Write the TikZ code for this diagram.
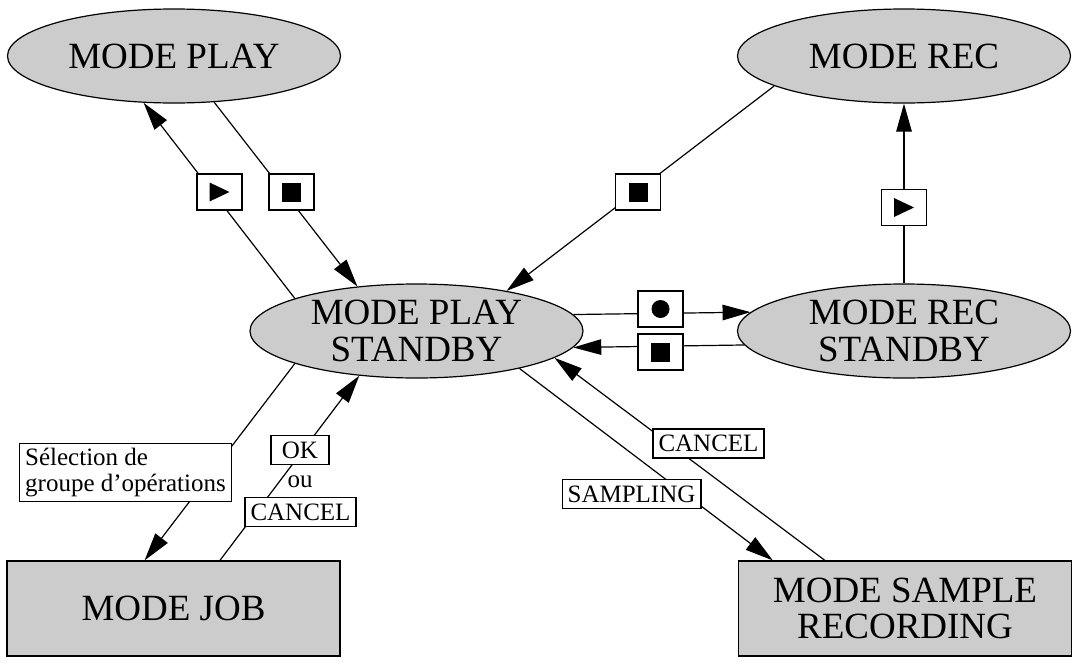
\documentclass[tikz,border=0pt]{standalone}
\usepackage{fontspec}
\setmainfont{Liberation Serif}
\usetikzlibrary{shapes.geometric, arrows.meta}
\definecolor{modegray}{RGB}{204, 204, 204}

% pictogrammes des touches
\newcommand{\playsym}{\tikz\fill (0pt,0pt) -- (0pt,19pt) -- (20pt,9.5pt) -- cycle;}
\newcommand{\stopsym}{\tikz\fill (0pt,0pt) rectangle (19pt,19pt);}
\newcommand{\recsym}{\tikz\fill (0pt,0pt) circle[radius=9pt];}

\begin{document}
\begin{tikzpicture}[
    x=1pt, y=-1pt,
    mode/.style={ellipse, draw, fill=modegray, line width=1.2pt, minimum width=333pt, minimum height=94pt, inner sep=0pt, align=center, font=\fontsize{37}{36.5}\selectfont},
    modebox/.style={rectangle, draw, fill=modegray, line width=1.2pt, minimum width=333pt, minimum height=95pt, inner sep=0pt, align=center, font=\fontsize{37}{36.5}\selectfont},
    keybox/.style={draw, fill=white, line width=1.2pt, minimum width=45pt, minimum height=36pt, inner sep=0pt},
    tag/.style={draw, fill=white, line width=1.2pt, inner xsep=5.5pt, inner ysep=5pt, minimum height=29pt, font=\fontsize{25}{26}\selectfont},
    link/.style={line width=1.2pt, -{Triangle[length=28pt, width=15.5pt]}}
]
    \useasboundingbox (0,0) rectangle (1077,667);

    % Modos
    \node[mode] (play) at (174, 56) {MODE PLAY};
    \node[mode] (rec) at (904, 56) {MODE REC};
    \node[mode] (standby) at (416.5, 331) {MODE PLAY\\STANDBY};
    \node[mode] (recsb) at (904, 331) {MODE REC\\STANDBY};
    \node[modebox] (job) at (173.5, 608.5) {MODE JOB};
    \node[modebox] (sample) at (905, 608.5) {MODE SAMPLE\\RECORDING};

    % Transiciones
    \draw[link] (standby.165.5) -- (play.237.7);
    \draw[link] (play.311.2) -- (standby.143.2);
    \draw[link] (rec.193.4) -- (standby.24.9);
    \draw[link] (recsb.north) -- (rec.south);
    \draw[link] (standby.6.3) -- (recsb.173.7);
    \draw[link] (recsb.185.8) -- (standby.354.2);
    \draw[link] (standby.195.4) -- (job.121);
    \draw[link] (job.46.9) -- (standby.218.8);
    \draw[link] (standby.340.2) -- (sample.160.6);
    \draw[link] (sample.149.6) -- (standby.349.7);

    % Touches
    \node[keybox] (kplay) at (219.5, 192) {\playsym};
    \node[keybox] (kstop) at (291.5, 192) {\stopsym};
    \node[keybox] (krecstop) at (638, 192) {\stopsym};
    \node[keybox] (krecplay) at (904, 207.5) {\playsym};
    \node[keybox] (krec) at (660.5, 309) {\recsym};
    \node[keybox] (ksbstop) at (660.5, 352) {\stopsym};

    % Etiquetas
    \node[tag, align=left] (select) at (125.5, 472.5) {Sélection de\\groupe d’opérations};
    \node[tag, minimum width=58pt] (ok) at (300, 450) {OK};
    \node[font=\fontsize{25}{26}\selectfont, inner sep=0pt] (ou) at (300, 481.5) {ou};
    \node[tag] (jobcancel) at (300.5, 512) {CANCEL};
    \node[tag] (samplecancel) at (708.5, 443.5) {CANCEL};
    \node[tag] (sampling) at (631.5, 494) {SAMPLING};
\end{tikzpicture}
\end{document}
